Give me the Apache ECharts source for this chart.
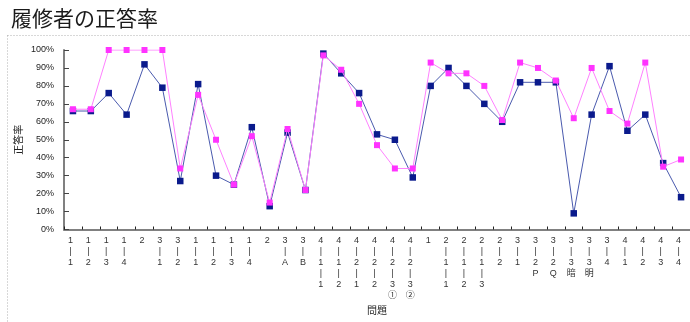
<!DOCTYPE html>
<html>
<head>
<meta charset="utf-8">
<script src="https://cdn.jsdelivr.net/npm/echarts@6/dist/echarts.min.js"></script>
<style>
  html, body { margin: 0; padding: 0; background: #fff; }
  #chart { width: 690px; height: 322px; }
</style>
</head>
<body>
<div id="chart"></div>
<script>
// Question labels, one part per stacked line
const questions = [
  ['1','1'], ['1','2'], ['1','3'], ['1','4'], ['2'], ['3','1'], ['3','2'],
  ['1','1'], ['1','2'], ['1','3'], ['1','4'], ['2'], ['3','A'], ['3','B'],
  ['4','1','1'], ['4','1','2'], ['4','2','1'], ['4','2','2'], ['4','2','3','①'], ['4','2','3','②'],
  ['1'], ['2','1','1'], ['2','1','2'], ['2','1','3'], ['2','2'], ['3','1'],
  ['3','2','P'], ['3','2','Q'], ['3','3','暗'], ['3','3','明'], ['3','4'],
  ['4','1'], ['4','2'], ['4','3'], ['4','4']
];

// Correct-answer rate (%)
const rateNavy = [66, 66, 76, 64, 92, 79, 27, 81, 30, 25, 57, 13, 54, 22,
  98, 87, 76, 53, 50, 29, 80, 90, 80, 70, 60, 82, 82, 82, 9, 64, 91, 55, 64, 37, 18];
const rateMagenta = [67, 67, 100, 100, 100, 100, 34, 75, 50, 25, 52, 15, 56, 22,
  97, 89, 70, 47, 34, 34, 93, 87, 87, 80, 61, 93, 90, 83, 62, 90, 66, 59, 93, 35, 39];

const yTicks = { min: 0, max: 100, interval: 10 };

// Sub-item marks (P, Q, 暗, 明, ①, ②) sit right under the number, without a bar
const categories = questions.map(function (parts) {
  return parts.reduce(function (acc, p, i) {
    if (i === 0) return p;
    if (/^[①②暗明PQ]$/.test(p)) return acc + '\n' + p;
    return acc + '\n|\n' + p;
  }, '');
});

const FONT = "'Liberation Sans', 'Noto Sans CJK JP', sans-serif";
const chart = echarts.init(document.getElementById('chart'), null, { renderer: 'canvas' });

chart.setOption({
  animation: false,
  backgroundColor: '#ffffff',
  title: {
    text: '履修者の正答率',
    left: 6,
    top: 3,
    textStyle: { fontFamily: "'Noto Sans CJK JP', sans-serif", fontSize: 21, fontWeight: 'normal', color: '#1a1a1a' }
  },
  graphic: [{
    type: 'rect',
    silent: true,
    z: -1,
    shape: { x: 7.5, y: 35.5, width: 720, height: 320 },
    style: { fill: 'none', stroke: '#b0b0b0', lineWidth: 1, lineDash: [1, 2] }
  }],
  grid: { left: 64, right: 0, top: 50, bottom: 92.5 },
  xAxis: {
    type: 'category',
    data: categories,
    boundaryGap: true,
    name: '問題',
    nameLocation: 'middle',
    nameGap: 77,
    nameMoveOverlap: false,
    nameTextStyle: { fontFamily: FONT, fontSize: 10, color: '#222' },
    axisLine: { show: true, lineStyle: { color: '#808080', width: 2 } },
    axisTick: { show: true, inside: true, length: 3, interval: 0, lineStyle: { color: '#222', width: 1 } },
    axisLabel: {
      interval: 0,
      fontFamily: FONT,
      fontSize: 9,
      lineHeight: 11,
      color: '#333',
      margin: 6,
      padding: [0, 5, 0, 0]
    },
    splitLine: { show: false }
  },
  yAxis: {
    type: 'value',
    min: yTicks.min,
    max: yTicks.max,
    interval: yTicks.interval,
    name: '正答率',
    nameLocation: 'middle',
    nameRotate: 90,
    nameGap: 40,
    nameMoveOverlap: false,
    nameTextStyle: { fontFamily: FONT, fontSize: 10, color: '#222' },
    axisLine: { show: true, lineStyle: { color: '#808080', width: 2 } },
    axisTick: { show: true, inside: true, length: 5, lineStyle: { color: '#444', width: 1 } },
    axisLabel: { formatter: '{value}%', fontFamily: FONT, fontSize: 9, color: '#222', margin: 10 },
    splitLine: { show: false }
  },
  series: [
    {
      type: 'line',
      data: rateNavy,
      symbol: 'rect',
      symbolSize: 6.5,
      showAllSymbol: true,
      itemStyle: { color: '#0a1a8c' },
      lineStyle: { color: '#4a5aae', width: 1 },
      z: 2
    },
    {
      type: 'line',
      data: rateMagenta,
      symbol: 'rect',
      symbolSize: 6,
      showAllSymbol: true,
      itemStyle: { color: '#ff33ff' },
      lineStyle: { color: '#ff80ff', width: 1 },
      z: 3
    }
  ]
});
</script>
</body>
</html>
